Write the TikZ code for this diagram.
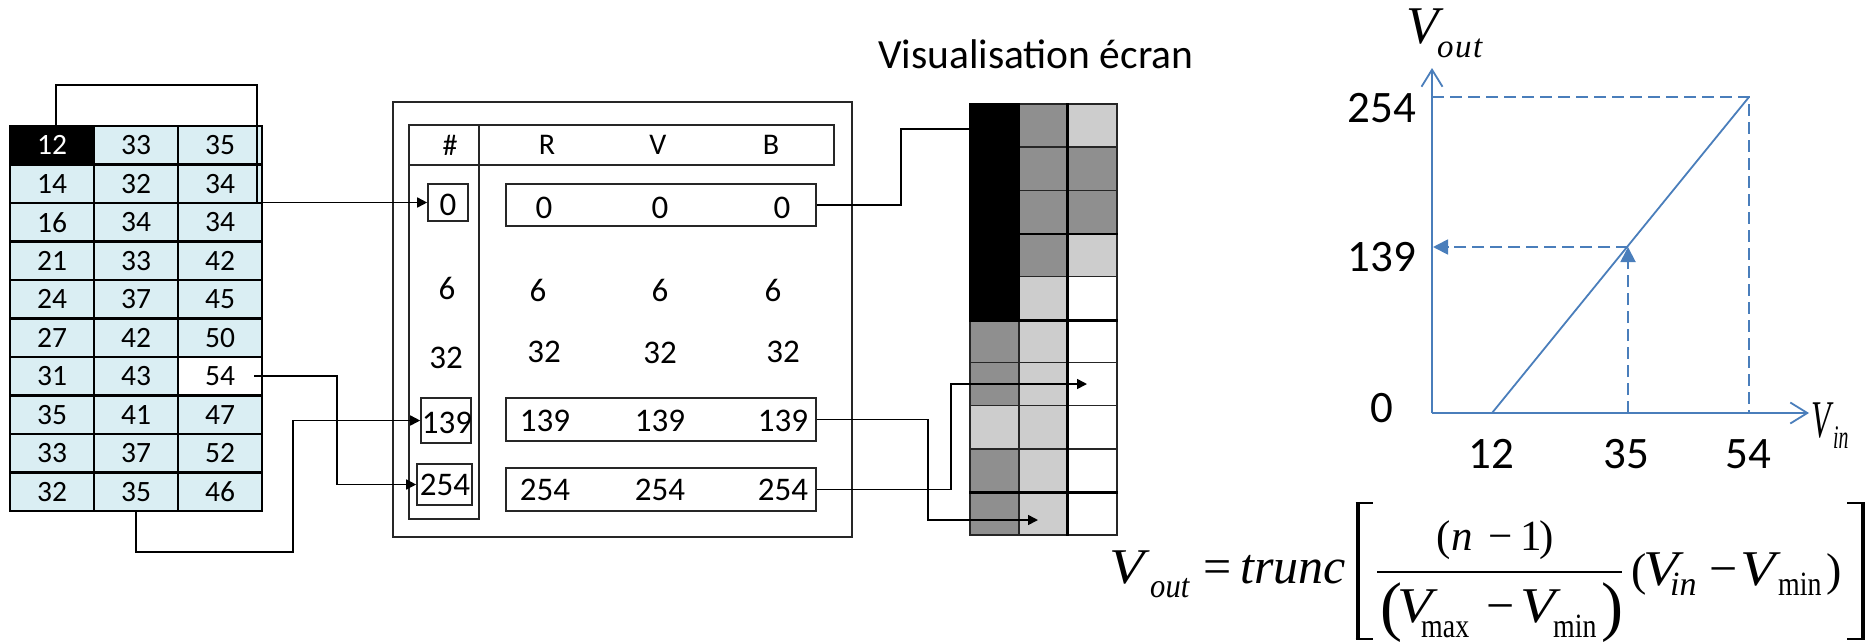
\documentclass[tikz,border=0pt]{standalone}
\usepackage{fontspec}
\setmainfont{Carlito}
\newfontfamily\tnr{Liberation Serif}
\usetikzlibrary{arrows.meta}
\definecolor{cellblue}{HTML}{DAEEF3}
\definecolor{dgray}{HTML}{8F8F8F}
\definecolor{lgray}{HTML}{CDCDCD}
\definecolor{gblue}{HTML}{4A7EBB}
\definecolor{mcol}{HTML}{262626}
\newcommand{\VV}{\scalebox{1.15}[1]{\itshape V}}
\newcommand{\sq}[1]{\scalebox{0.82}[1]{#1}}
\begin{document}
\begin{tikzpicture}[x=1pt,y=-1pt,
  tcell/.style={draw=black, line width=2.2pt, minimum width=84pt, minimum height=38.5pt, inner sep=0pt, fill=cellblue, font=\fontsize{29.5}{31}\selectfont},
  mbox/.style={draw=mcol, line width=1.6pt, inner sep=0pt},
  mnum/.style={inner sep=0pt, font=\fontsize{33}{35}\selectfont},
  hnum/.style={inner sep=0pt, font=\fontsize{30}{32}\selectfont},
  scell/.style={draw=mcol, line width=1.4pt, minimum width=49pt, minimum height=43.1pt, inner sep=0pt},
  conn/.style={draw=black, line width=1.6pt},
  arr/.style={-{Triangle[length=10pt,width=10pt]}},
  gline/.style={draw=gblue, line width=1.8pt},
  gdash/.style={gline, dash pattern=on 12pt off 6pt},
  gnum/.style={inner sep=0pt, font=\fontsize{45}{47}\selectfont},
  fm/.style={inner sep=0pt, anchor=base west, font=\tnr\fontsize{46}{48}\selectfont},
  fb/.style={inner sep=0pt, anchor=base west, font=\tnr\fontsize{50}{52}\selectfont},
  fs/.style={inner sep=0pt, anchor=base west, font=\tnr\fontsize{34}{36}\selectfont},
  fn/.style={inner sep=0pt, anchor=base west, font=\tnr\fontsize{43}{45}\selectfont},
  fp/.style={inner sep=0pt, anchor=base west, font=\tnr\fontsize{66}{68}\selectfont},
]
\useasboundingbox (0,0) rectangle (1865,641);

% ---------------- left table ----------------
\foreach \r/\a/\b/\c in {1/12/33/35,2/14/32/34,3/16/34/34,4/21/33/42,5/24/37/45,6/27/42/50,7/31/43/54,8/35/41/47,9/33/37/52,10/32/35/46}{
  \node[tcell] (t-\r-1) at (52,{126+(\r-0.5)*38.5}) {\a};
  \node[tcell] (t-\r-2) at (136,{126+(\r-0.5)*38.5}) {\b};
  \node[tcell] (t-\r-3) at (220,{126+(\r-0.5)*38.5}) {\c};
}
\node[tcell, fill=black, text=white] (t-1-1) at (52,145.25) {12};
\node[tcell, fill=white] (t-7-3) at (220,376.25) {54};

% ---------------- middle box ----------------
\node[mbox, minimum width=459pt, minimum height=435pt] (outer) at (622.5,319.5) {};
\node[mbox, minimum width=425pt, minimum height=40pt] (hdr) at (621.5,145) {};
\node[mbox, minimum width=70pt, minimum height=394pt] (hcol) at (444,322) {};
\node[hnum] (hh) at (450,145) {\#};
\node[hnum] (hR) at (547,145) {R};
\node[hnum] (hV) at (658,145) {V};
\node[hnum] (hB) at (771,145) {B};

\node[mbox, minimum width=40pt, minimum height=37pt] (b0) at (448,202.5) {};
\node[mbox, minimum width=50pt, minimum height=45pt] (b139) at (446,420.5) {};
\node[mbox, minimum width=55pt, minimum height=41pt] (b254) at (444.5,484.5) {};
\node[mnum] (tb0) at (448,205) {0};
\node[mnum] (tb139) at (447,423) {139};
\node[mnum] (tb254) at (445,485) {254};
\node[mbox, minimum width=310pt, minimum height=42pt] (r0) at (661,205) {};
\node[mbox, minimum width=310pt, minimum height=43pt] (r139) at (661,419.5) {};
\node[mbox, minimum width=310pt, minimum height=43pt] (r254) at (661,489.5) {};

\node[mnum] (n0a) at (544,208) {0};
\node[mnum] (n0b) at (660,208) {0};
\node[mnum] (n0c) at (782,208) {0};
\node[mnum] (n6h) at (447,288) {6};
\node[mnum] (n6a) at (538,290) {6};
\node[mnum] (n6b) at (660,290) {6};
\node[mnum] (n6c) at (773,290) {6};
\node[mnum] (n32h) at (446,358) {32};
\node[mnum] (n32a) at (544,352) {32};
\node[mnum] (n32b) at (660,353) {32};
\node[mnum] (n32c) at (783,352) {32};
\node[mnum] (n139a) at (545,421) {139};
\node[mnum] (n139b) at (660,421) {139};
\node[mnum] (n139c) at (783,421) {139};
\node[mnum] (n254a) at (545,490) {254};
\node[mnum] (n254b) at (660,490) {254};
\node[mnum] (n254c) at (783,490) {254};

% ---------------- left connectors ----------------
\coordinate (k1) at (257,85);
\draw[conn,arr] ([xshift=4pt]t-1-1.north) |- (k1) |- (b0.west);
\coordinate (k5) at (337,440);
\draw[conn,arr] ([xshift=-9pt]t-7-3.east) -| (k5) |- (b254.west);
\coordinate (k6) at (293,552);
\draw[conn,arr] (t-10-2.south) |- (k6) |- (b139.west);

% ---------------- screen ----------------
\node[inner sep=0pt, anchor=base west, font=\fontsize{41.5}{43}\selectfont] (title) at (878,68) {Visualisation écran};
\foreach \r/\a/\b/\c in {1/black/dgray/lgray,2/black/dgray/dgray,3/black/dgray/dgray,4/black/dgray/lgray,5/black/lgray/white,6/dgray/lgray/white,7/dgray/lgray/white,8/lgray/lgray/white,9/dgray/lgray/white,10/dgray/lgray/white}{
  \node[scell, fill=\a] (s-\r-1) at (994.5,{104+(\r-0.5)*43.1}) {};
  \node[scell, fill=\b] (s-\r-2) at (1043.5,{104+(\r-0.5)*43.1}) {};
  \node[scell, fill=\c] (s-\r-3) at (1092.5,{104+(\r-0.5)*43.1}) {};
}
\draw[black, fill=black, line width=1.4pt] (s-1-1.north west) rectangle (s-5-1.south east);
\draw[black, line width=2.6pt] (s-5-1.south west) -- (s-5-3.south east);
\draw[black, line width=2.6pt] (s-9-1.south west) -- (s-9-3.south east);
\draw[black, line width=2.6pt] (s-3-2.south west) -- (s-3-3.south east);
\draw[black, line width=2.6pt] (s-1-3.north west) -- (s-10-3.south west);

% ---------------- right connectors ----------------
\coordinate (k2) at (901,129);
\draw[conn] (r0.east) -| (k2) -- (k2 -| s-1-1.west);
\coordinate (k3) at (928,520);
\coordinate (e3) at (1038,520);
\draw[conn,arr] (r139.east) -| (k3) -- (e3);
\coordinate (k4) at (951,384);
\coordinate (e4) at (1087,384);
\draw[conn,arr] (r254.east) -| (k4) -- (e4);

% ---------------- graph ----------------
\coordinate (O) at (1432,413);
\coordinate (ytop) at (1432,68);
\coordinate (xend) at (1809,413);
\coordinate (p12) at (1492,413);
\coordinate (p35) at (1628,413);
\coordinate (p54) at (1749,413);
\coordinate (q254) at (1749,97);
\coordinate (y254) at (1432,97);
\coordinate (q139) at (1628,247);
\coordinate (y139) at (1433,247);
\draw[gline, -{Straight Barb[length=17pt,width=21pt]}] (O) -- (ytop);
\draw[gline, -{Straight Barb[length=17pt,width=21pt]}] (O) -- (xend);
\draw[gline] (p12) -- (q254);
\draw[gdash] (y254) -- (q254) -- (p54);
\draw[gdash, -{Triangle[length=15pt,width=15pt]}] (p35) -- (q139);
\draw[gdash, -{Triangle[length=15pt,width=15pt]}] (q139) -- (y139);
\node[gnum] (l254) at (1382,108) {254};
\node[gnum] (l139) at (1382,257) {139};
\node[gnum] (l0) at (1382,408) {0};
\node[gnum] (l12) at (1491,454) {12};
\node[gnum] (l35) at (1626,454) {35};
\node[gnum] (l54) at (1748,454) {54};
\node[inner sep=0pt, anchor=base west, font=\tnr\fontsize{53}{55}\selectfont\itshape] (gV) at (1406,43) {V};
\node[inner sep=0pt, anchor=base west, font=\tnr\fontsize{33}{35}\selectfont\itshape] (gout) at (1437,57) {o\kern1.5pt u\kern1.5pt t};
\node[inner sep=0pt, anchor=base west, font=\tnr\fontsize{53}{55}\selectfont\itshape] (gVi) at (1811,437) {\scalebox{0.6}[1]{V}};
\node[inner sep=0pt, anchor=base west, font=\tnr\fontsize{33}{35}\selectfont\itshape] (gin) at (1833,448) {\scalebox{0.6}[1]{in}};

% ---------------- formula ----------------
\node[fb] (fV1) at (1109,583) {\VV};
\node[fs] (fo1) at (1150,597) {\scalebox{0.9}[1]{\itshape out}};
\node[fb] (feq) at (1203,583) {=};
\node[fb] (ftr) at (1240,583) {\itshape trunc};
\node[fn] (fnl) at (1436,550) {(};
\node[fn] (fnn) at (1451,550) {\itshape n};
\node[fn] (fnm) at (1488,550) {−};
\node[fn] (fn1) at (1520,550) {1};
\node[fn] (fnr) at (1539,550) {)};
\coordinate (fl1) at (1377,572);
\coordinate (fl2) at (1622,572);
\draw[line width=2pt] (fl1) -- (fl2);
\node[fp] (fdl) at (1380,628) {(};
\node[fb] (fdV) at (1397,622) {\VV};
\node[fs] (fdmax) at (1421,637) {\sq{max}};
\node[fb] (fdm) at (1486,622) {−};
\node[fb] (fdV2) at (1520,622) {\VV};
\node[fs] (fdmin) at (1553,637) {\sq{min}};
\node[fp] (fdr) at (1601,628) {)};
\node[fm] (fal) at (1631,585) {(};
\node[fb] (faV) at (1643,585) {\VV};
\node[fs] (fain) at (1670,595) {\itshape in};
\node[fb] (fam) at (1709,585) {−};
\node[fb] (faV2) at (1740,585) {\VV};
\node[fs] (famin) at (1778,595) {\sq{min}};
\node[fm] (far) at (1826,585) {)};
% brackets
\draw[line width=4pt] (1357.5,502) -- (1357.5,640);
\draw[line width=2pt] (1355.5,503) -- (1373,503);
\draw[line width=2pt] (1355.5,639) -- (1373,639);
\draw[line width=4pt] (1863,502) -- (1863,640);
\draw[line width=2pt] (1847,503) -- (1865,503);
\draw[line width=2pt] (1847,639) -- (1865,639);
\end{tikzpicture}
\end{document}
